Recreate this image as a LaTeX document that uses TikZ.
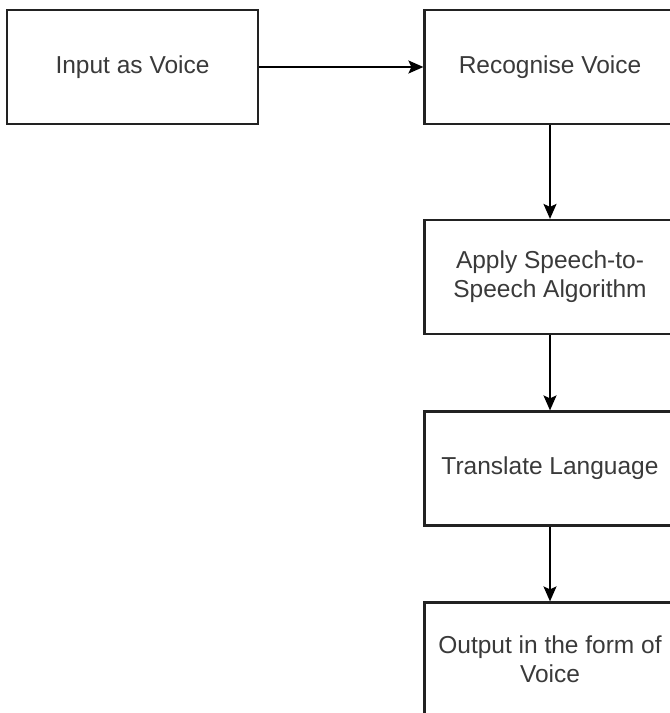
\documentclass[tikz,border=0pt]{standalone}
\usepackage{fontspec}
\setmainfont{Liberation Sans}
\usetikzlibrary{arrows.meta}
\definecolor{txt}{HTML}{3A3A3A}
\definecolor{edge}{HTML}{222222}
\tikzset{
  flowbox/.style={draw=edge, line width=2.2pt, fill=white, minimum width=251pt, minimum height=114pt,
    inner sep=0pt, align=center, text=txt, font=\fontsize{24.5}{29}\selectfont},
  flowarrow/.style={draw=black, line width=1.8pt, -{Stealth[length=15pt,width=13pt,inset=3pt]}}
}
\begin{document}
\begin{tikzpicture}[x=1pt,y=-1pt]
\useasboundingbox (0,0) rectangle (670,713);
\clip (0,0) rectangle (670,713);
\node[flowbox] (input) at (132.5,67) {\raisebox{-2pt}{Input as Voice}};
\node[flowbox] (recog) at (550,67) {\raisebox{-2pt}{Recognise Voice}};
\node[flowbox] (apply) at (550,277) {Apply Speech-to-\\Speech Algorithm};
\node[flowbox] (trans) at (550,468.5) {Translate Language};
\node[flowbox] (outp) at (550,659.5) {Output in the form of\\Voice};
\draw[flowarrow] (input.east) -- (recog.west);
\draw[flowarrow] (recog.south) -- (apply.north);
\draw[flowarrow] (apply.south) -- (trans.north);
\draw[flowarrow] (trans.south) -- (outp.north);
\end{tikzpicture}
\end{document}
